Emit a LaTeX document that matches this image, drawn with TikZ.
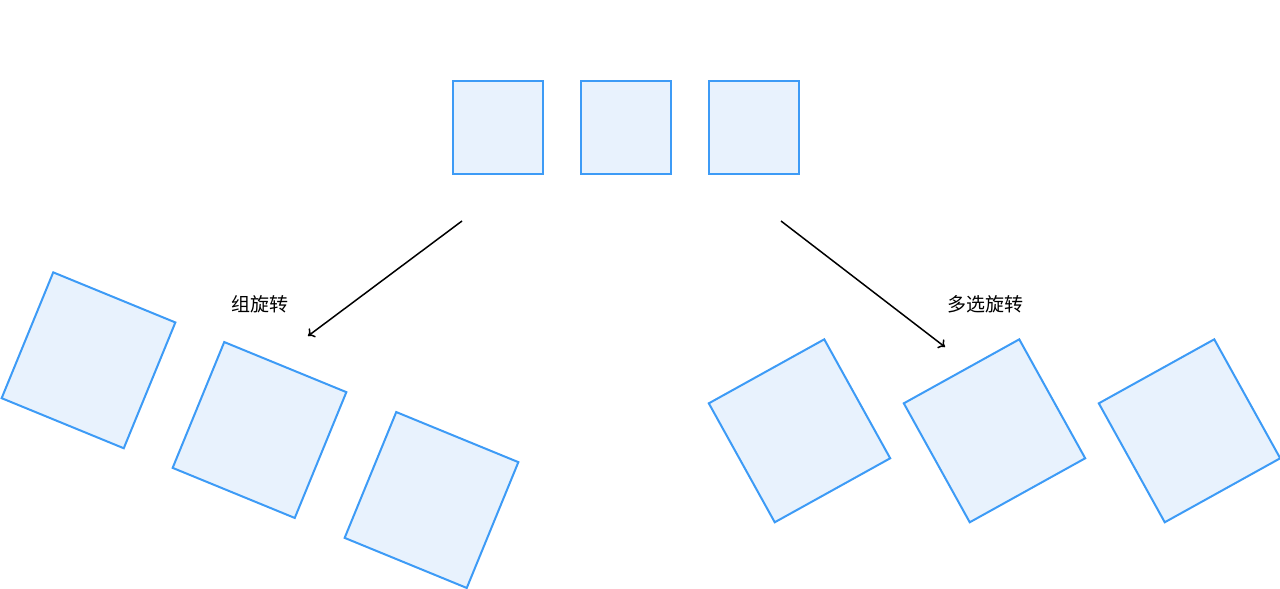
\documentclass[tikz,border=0pt]{standalone}
\usepackage{fontspec}
\usetikzlibrary{arrows.meta}
\newfontfamily\cjk{Noto Sans CJK SC}
\definecolor{boxline}{HTML}{3D9BF6}
\definecolor{boxfill}{HTML}{E8F2FD}
\tikzset{
  sq/.style={draw=boxline, fill=boxfill, line width=2pt, inner sep=0pt, outer sep=0pt},
  small/.style={sq, minimum width=90pt, minimum height=93pt},
  big/.style={sq, minimum width=132pt, minimum height=136pt},
  lbl/.style={font=\cjk\fontsize{19}{22}\selectfont, inner sep=0pt},
  arr/.style={-{To[length=6pt,width=11pt]}, line width=1.5pt}
}
\begin{document}
\begin{tikzpicture}[x=1pt,y=-1pt]
                \useasboundingbox (0,0) rectangle (1280,589);

                % original
                \node [small] (a1) at (497.5,127) {};
                \node [small] (a2) at (625.5,127) {};
                \node [small] (a3) at (753.5,127) {};

                % group rotation
                \node [big, rotate=-22.3] (g1) at (88.5,360.3) {};
                \node [big, rotate=-22.3] (g2) at (259.5,430) {};
                \node [big, rotate=-22.3] (g3) at (431.5,500) {};

                % multi rotation
                \node [big, rotate=29] (m1) at (799.5,430.8) {};
                \node [big, rotate=29] (m2) at (994.5,430.8) {};
                \node [big, rotate=29] (m3) at (1189.5,430.8) {};

                \node [lbl] (gl) at (260,304) {组旋转};
                \node [lbl] (ml) at (985,304) {多选旋转};

                \coordinate (ls) at (462,221);
                \coordinate (le) at (308,336);
                \coordinate (rs) at (781,221);
                \coordinate (re) at (945,347);
                \draw [arr] (ls) -- (le);
                \draw [arr] (rs) -- (re);
            \end{tikzpicture}
\end{document}
